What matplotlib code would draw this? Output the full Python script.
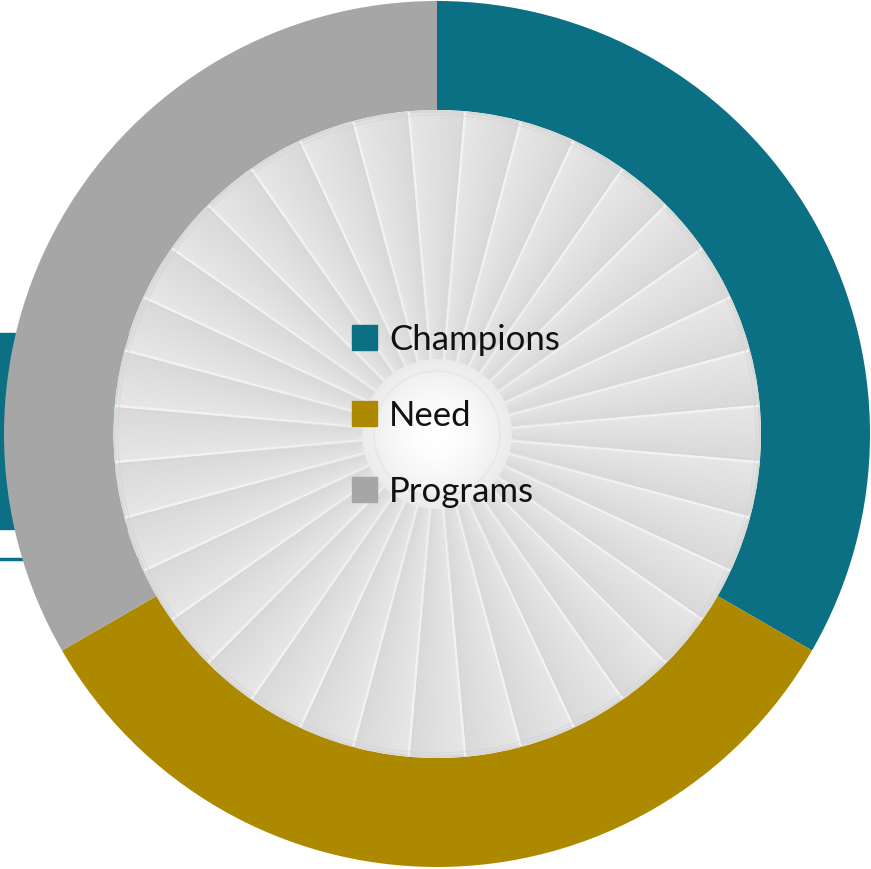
import numpy as np
import matplotlib.pyplot as plt
from matplotlib.patches import Wedge, Circle, Rectangle

# chart data
labels = ["Champions", "Need", "Programs"]
values = [1, 1, 1]
colors = ["#0b7083", "#ad8900", "#a6a6a6"]

W, H = 871, 869
fig = plt.figure(figsize=(W / 100, H / 100), dpi=100)
ax = fig.add_axes([0, 0, 1, 1])

cx, cy = 437, H - 434
R = 433
r_in = 324
n_blades = 36

# teal decoration behind the ring on the left
ax.add_patch(Rectangle((0, H - 529), 200, 196, color=colors[0], zorder=0))
ax.plot([0, 200], [H - 559, H - 559], color=colors[0], lw=2.5, zorder=0)

# donut
ax.pie(values, colors=colors, radius=R, center=(cx, cy), startangle=90,
       counterclock=False, frame=True,
       wedgeprops=dict(width=R - r_in, linewidth=0, zorder=2))

# inner fan disk
ax.add_patch(Circle((cx, cy), r_in, fc="#d8d8d8", ec="none", zorder=3))
n_strip = 14
for k in range(n_blades):
    a1 = 85 - 10 * k
    a0 = a1 - 10
    d = 10 / n_strip
    for j in range(n_strip):
        t = j / (n_strip - 1)
        g = int(0xd9 + (0xe6 - 0xd9) * t)
        c = "#%02x%02x%02x" % (g, g, g)
        ax.add_patch(Wedge((cx, cy), r_in - 3, a0 + j * d, a0 + (j + 1) * d + 0.05,
                           width=r_in - 3 - 70, fc=c, ec=c, lw=0.3, zorder=4))
    th = np.deg2rad(a1)
    ax.plot([cx + 72 * np.cos(th), cx + (r_in - 1) * np.cos(th)],
            [cy + 72 * np.sin(th), cy + (r_in - 1) * np.sin(th)],
            color="#f2f2f2", lw=1.8, zorder=5, solid_capstyle="butt")
    th2 = np.deg2rad(a1 + 0.35)
    ax.plot([cx + 72 * np.cos(th2), cx + (r_in - 4) * np.cos(th2)],
            [cy + 72 * np.sin(th2), cy + (r_in - 4) * np.sin(th2)],
            color="#cccccc", lw=0.6, alpha=0.4, zorder=5)

ax.add_patch(Circle((cx, cy), r_in - 5, fill=False, ec="#d2d2d2", lw=1.0, alpha=0.5, zorder=5))

# white centre with soft gradient
xs = np.linspace(-80, 80, 240)
X, Y = np.meshgrid(xs, xs)
rr = np.hypot(X, Y)
val = 1 - 0.08 * (rr / 75) ** 1.6
im = ax.imshow(val, cmap="gray", vmin=0, vmax=1, extent=(cx - 80, cx + 80, cy - 80, cy + 80),
               zorder=6, interpolation="bilinear")
clip = Circle((cx, cy), 75, transform=ax.transData)
im.set_clip_path(clip)
ax.add_patch(Circle((cx, cy), 63, fill=False, ec="#e8e8e8", lw=1.5, zorder=7))

# legend in the middle
for i, lab in enumerate(labels):
    base = 349.5 + 76 * i
    ax.add_patch(Rectangle((352, H - base), 25, 25, color=colors[i], zorder=8))
    ax.text(389, H - base, lab, fontsize=25, family="Lato", color="#111111",
            va="baseline", ha="left", zorder=8)

ax.set_xlim(0, W)
ax.set_ylim(0, H)
ax.set_aspect("equal")
ax.axis("off")

fig.savefig("out.png", dpi=100)
